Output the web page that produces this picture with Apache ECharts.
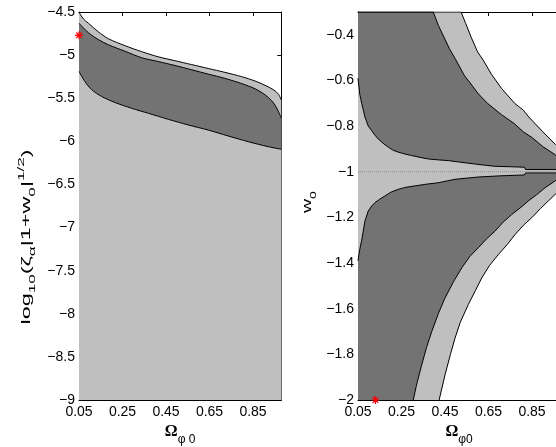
<!DOCTYPE html>
<html>
<head>
<meta charset="utf-8">
<script src="https://cdn.jsdelivr.net/npm/echarts@6/dist/echarts.min.js"></script>
<style>html,body{margin:0;padding:0;background:#fff;}#c{width:556px;height:447px;}</style>
</head>
<body>
<div id="c"></div>
<script>
// ---------- data ----------
const xTicks = [0.05, 0.25, 0.45, 0.65, 0.85];
const yLeftTicks = [-9, -8.5, -8, -7.5, -7, -6.5, -6, -5.5, -5, -4.5];
const yRightTicks = [-2, -1.8, -1.6, -1.4, -1.2, -1, -0.8, -0.6, -0.4];

// left panel: log10(zeta_alpha |1+w0|^1/2) vs Omega_phi0
const leftOuter = [[0.05,-4.50],[0.07,-4.58],[0.093,-4.63],[0.139,-4.73],[0.185,-4.81],[0.261,-4.89],[0.338,-4.96],[0.415,-5.02],[0.491,-5.065],[0.568,-5.11],[0.644,-5.155],[0.721,-5.20],[0.798,-5.25],[0.859,-5.30],[0.905,-5.35],[0.943,-5.40],[0.966,-5.45],[0.98,-5.52]];
const leftMiddle = [[0.05,-4.63],[0.093,-4.74],[0.139,-4.82],[0.185,-4.88],[0.261,-4.955],[0.338,-5.03],[0.415,-5.075],[0.491,-5.12],[0.568,-5.17],[0.644,-5.22],[0.721,-5.27],[0.798,-5.33],[0.859,-5.39],[0.905,-5.46],[0.936,-5.53],[0.951,-5.58],[0.966,-5.65],[0.98,-5.73]];
const leftLower = [[0.05,-5.19],[0.078,-5.31],[0.108,-5.40],[0.154,-5.48],[0.216,-5.55],[0.292,-5.617],[0.369,-5.675],[0.461,-5.745],[0.553,-5.811],[0.644,-5.869],[0.736,-5.938],[0.828,-6.004],[0.92,-6.062],[0.98,-6.092]];
const leftStar = [[0.05,-4.77]];

// right panel: w0 vs Omega_phi0
const upperOuter = [[0.05,-0.3],[0.524,-0.3],[0.545,-0.35],[0.57,-0.41],[0.60,-0.475],[0.625,-0.51],[0.665,-0.575],[0.71,-0.635],[0.77,-0.70],[0.81,-0.73],[0.835,-0.76],[0.90,-0.825],[0.957,-0.88],[0.98,-0.90]];
const upperDark = [[0.05,-0.3],[0.396,-0.3],[0.42,-0.36],[0.445,-0.41],[0.47,-0.46],[0.50,-0.51],[0.54,-0.58],[0.565,-0.61],[0.60,-0.655],[0.645,-0.70],[0.71,-0.75],[0.77,-0.79],[0.81,-0.825],[0.85,-0.85],[0.90,-0.89],[0.956,-0.925],[0.98,-0.955]];
const upperInner = [[0.05,-0.59],[0.058,-0.66],[0.067,-0.70],[0.082,-0.76],[0.097,-0.80],[0.113,-0.82],[0.128,-0.84],[0.143,-0.856],[0.165,-0.875],[0.189,-0.892],[0.21,-0.905],[0.235,-0.914],[0.265,-0.922],[0.297,-0.929],[0.335,-0.937],[0.373,-0.944],[0.42,-0.948],[0.465,-0.951],[0.52,-0.958],[0.588,-0.966],[0.64,-0.972],[0.68,-0.976],[0.75,-0.978],[0.815,-0.98],[0.82,-0.99],[0.98,-0.99]];
const lowerInner = [[0.05,-1.39],[0.058,-1.34],[0.067,-1.30],[0.082,-1.216],[0.097,-1.172],[0.113,-1.15],[0.128,-1.135],[0.15,-1.12],[0.174,-1.106],[0.20,-1.09],[0.235,-1.077],[0.27,-1.068],[0.312,-1.062],[0.36,-1.055],[0.419,-1.048],[0.46,-1.04],[0.496,-1.033],[0.55,-1.028],[0.603,-1.023],[0.70,-1.018],[0.815,-1.014],[0.82,-1.005],[0.98,-1.005]];
const lowerDark = [[0.304,-2.0],[0.32,-1.93],[0.343,-1.846],[0.365,-1.77],[0.389,-1.70],[0.42,-1.62],[0.45,-1.553],[0.49,-1.48],[0.527,-1.421],[0.565,-1.37],[0.603,-1.333],[0.64,-1.295],[0.68,-1.26],[0.718,-1.22],[0.757,-1.187],[0.80,-1.155],[0.833,-1.128],[0.872,-1.10],[0.91,-1.07],[0.956,-1.04],[0.98,-1.02]];
const lowerOuter = [[0.423,-2.0],[0.45,-1.89],[0.475,-1.80],[0.496,-1.729],[0.52,-1.66],[0.557,-1.582],[0.59,-1.52],[0.619,-1.465],[0.655,-1.41],[0.695,-1.363],[0.735,-1.32],[0.772,-1.275],[0.81,-1.235],[0.849,-1.201],[0.89,-1.16],[0.925,-1.128],[0.956,-1.099],[0.98,-1.08]];
const minusOne = [[0.05,-1],[0.98,-1]];
const rightStar = [[0.13,-2]];
const annotations = [{name:'quintessence', value:[0.408,-0.702]},{name:'phantom', value:[0.339,-1.304]}];

// ---------- style ----------
const DARK = '#737373', LIGHT = '#bfbfbf';
const FONT = 'Liberation Sans, Arial, Helvetica, sans-serif';
const fmt = v => String(+v.toFixed(2)).replace('-', '\u2212');

function xAxisDef(grid, pos, labels, name) {
  return {
    type: 'value', gridIndex: grid, position: pos, min: 0.05, max: 0.98,
    axisLine: {show: true, onZero: false, lineStyle: {color: '#000', width: 1}},
    axisTick: {show: true, inside: true, length: 4, customValues: xTicks, lineStyle: {color: '#000'}},
    axisLabel: {show: labels, customValues: xTicks, margin: 5, color: '#000', fontSize: 14, fontFamily: FONT, formatter: fmt},
    splitLine: {show: false},
    name: name || '', nameLocation: 'middle', nameGap: 23,
    nameTextStyle: {
      color: '#000',
      rich: {
        o: {fontFamily: 'Liberation Serif, DejaVu Serif, serif', fontWeight: 'bold', fontSize: 16, lineHeight: 18, verticalAlign: 'top', color: '#000'},
        s: {fontFamily: FONT, fontSize: 12, lineHeight: 12, padding: [10, 0, 0, 0], verticalAlign: 'top', color: '#000'}
      }
    }
  };
}
function yAxisDef(grid, pos, labels, min, max, ticks) {
  return {
    type: 'value', gridIndex: grid, position: pos, min: min, max: max,
    axisLine: {show: true, onZero: false, lineStyle: {color: '#000', width: 1}},
    axisTick: {show: true, inside: true, length: 4, customValues: ticks, lineStyle: {color: '#000'}},
    axisLabel: {show: labels, customValues: ticks, margin: 4, color: '#000', fontSize: 14, fontFamily: FONT, formatter: fmt},
    splitLine: {show: false}
  };
}
function fill(data, color, xi, yi, smooth) {
  return {
    type: 'line', data: data, xAxisIndex: xi, yAxisIndex: yi, showSymbol: false, smooth: smooth || false,
    lineStyle: {color: '#000', width: 1}, areaStyle: {color: color, opacity: 1, origin: 'start'},
    silent: true, clip: true
  };
}
const starPath = 'path://M5,0L5,10M0,5L10,5M1.5,1.5L8.5,8.5M1.5,8.5L8.5,1.5';
function star(data, xi, yi) {
  return {
    type: 'scatter', data: data, xAxisIndex: xi, yAxisIndex: yi, symbol: starPath, symbolSize: 8, clip: false, z: 10,
    itemStyle: {color: 'none', borderColor: '#ff0000', borderWidth: 1.2, opacity: 1}
  };
}

const chart = echarts.init(document.getElementById('c'), null, {renderer: 'canvas'});
chart.setOption({
  animation: false,
  backgroundColor: '#fff',
  grid: [
    {left: 79, top: 12, width: 202.3, height: 388, outerBoundsMode: 'none', containLabel: false},
    {left: 358, top: 12, width: 202.3, height: 388, outerBoundsMode: 'none', containLabel: false}
  ],
  xAxis: [
    xAxisDef(0, 'bottom', true, '{o|\u03A9}{s|\u03C6 0}'),
    xAxisDef(0, 'top', false),
    xAxisDef(1, 'bottom', true, '{o|\u03A9}{s|\u03C60}'),
    xAxisDef(1, 'top', false)
  ],
  yAxis: [
    yAxisDef(0, 'left', true, -9, -4.5, yLeftTicks),
    yAxisDef(0, 'right', false, -9, -4.5, yLeftTicks),
    yAxisDef(1, 'left', true, -2, -0.3, yRightTicks),
    yAxisDef(1, 'right', false, -2, -0.3, yRightTicks)
  ],
  graphic: [
    {
      type: 'text', x: 24, y: 237, rotation: Math.PI / 2, scaleX: 1.8, scaleY: 1,
      style: {
        text: '{n|log}{s|10}{n|(\u03B6}{s|\u03B1}{n||1+w}{s|0}{n||}{p|1/2}{n|)}',
        align: 'center', verticalAlign: 'middle', fill: '#000',
        rich: {
          n: {fontFamily: FONT, fontSize: 13, lineHeight: 15, padding: [3, 0, 0, 0], verticalAlign: 'top', fill: '#000'},
          s: {fontFamily: FONT, fontSize: 9.5, lineHeight: 10, padding: [11, 0, 0, 0], verticalAlign: 'top', fill: '#000'},
          p: {fontFamily: FONT, fontSize: 9.5, lineHeight: 10, padding: [0, 0, 0, 0], verticalAlign: 'top', fill: '#000'}
        }
      }
    },
    {
      type: 'text', x: 305, y: 202, rotation: Math.PI / 2, scaleX: 1.5, scaleY: 1,
      style: {
        text: '{n|w}{s|0}',
        align: 'center', verticalAlign: 'middle', fill: '#000',
        rich: {
          n: {fontFamily: FONT, fontSize: 13, lineHeight: 15, padding: [3, 0, 0, 0], verticalAlign: 'top', fill: '#000'},
          s: {fontFamily: FONT, fontSize: 9.5, lineHeight: 10, padding: [11, 0, 0, 0], verticalAlign: 'top', fill: '#000'}
        }
      }
    }
  ],
  series: [
    fill(leftOuter, LIGHT, 0, 0, 0.3),
    fill(leftMiddle, DARK, 0, 0, 0.3),
    fill(leftLower, LIGHT, 0, 0, 0.3),
    star(leftStar, 0, 0),

    fill(upperOuter, LIGHT, 2, 2),
    fill(upperDark, DARK, 2, 2),
    fill(upperInner, LIGHT, 2, 2),
    fill(lowerInner, DARK, 2, 2),
    fill(lowerDark, LIGHT, 2, 2),
    fill(lowerOuter, '#ffffff', 2, 2),
    {
      type: 'line', data: minusOne, xAxisIndex: 2, yAxisIndex: 2, showSymbol: false, silent: true,
      lineStyle: {color: '#8c8c8c', width: 1, type: 'dotted'}
    },
    {
      type: 'scatter', data: annotations, xAxisIndex: 2, yAxisIndex: 2, symbolSize: 0, silent: true,
      label: {show: true, position: 'inside', formatter: p => p.name, color: '#000', fontSize: 15, fontFamily: FONT}
    },
    star(rightStar, 2, 2)
  ]
});
</script>
</body>
</html>
